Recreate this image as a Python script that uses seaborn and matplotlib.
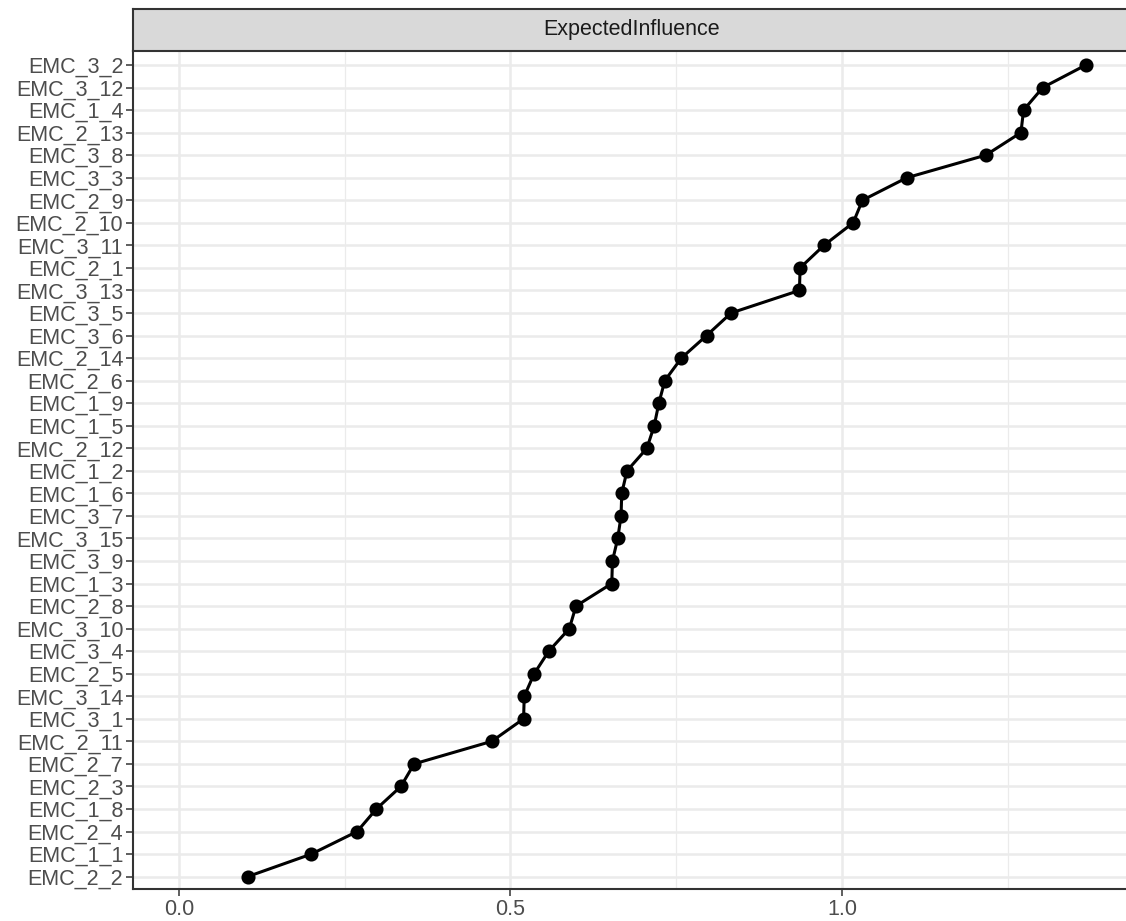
import matplotlib
matplotlib.use("Agg")
import matplotlib.pyplot as plt
import pandas as pd
import seaborn as sns
from matplotlib.ticker import FixedLocator

# nodes, top to bottom, and their expected influence
nodes = [
    "EMC_3_2", "EMC_3_12", "EMC_1_4", "EMC_2_13", "EMC_3_8", "EMC_3_3",
    "EMC_2_9", "EMC_2_10", "EMC_3_11", "EMC_2_1", "EMC_3_13", "EMC_3_5",
    "EMC_3_6", "EMC_2_14", "EMC_2_6", "EMC_1_9", "EMC_1_5", "EMC_2_12",
    "EMC_1_2", "EMC_1_6", "EMC_3_7", "EMC_3_15", "EMC_3_9", "EMC_1_3",
    "EMC_2_8", "EMC_3_10", "EMC_3_4", "EMC_2_5", "EMC_3_14", "EMC_3_1",
    "EMC_2_11", "EMC_2_7", "EMC_2_3", "EMC_1_8", "EMC_2_4", "EMC_1_1",
    "EMC_2_2",
]
influence = [
    1.368, 1.303, 1.274, 1.270, 1.217, 1.098,
    1.031, 1.017, 0.973, 0.937, 0.936, 0.833,
    0.796, 0.758, 0.733, 0.724, 0.717, 0.706,
    0.676, 0.668, 0.667, 0.662, 0.654, 0.653,
    0.599, 0.589, 0.558, 0.536, 0.521, 0.520,
    0.472, 0.355, 0.335, 0.298, 0.269, 0.200,
    0.104,
]
xticks = [0.0, 0.5, 1.0]
xtick_labels = ["0.0", "0.5", "1.0"]
minor_ticks = [0.25, 0.75, 1.25]
panel_title = "ExpectedInfluence"

df = pd.DataFrame({"node": nodes, "value": influence})

sns.set_theme(style="white")
plt.rcParams["font.family"] = ["Liberation Sans", "DejaVu Sans"]

W, H = 1126, 921
fig = plt.figure(figsize=(W / 100, H / 100), dpi=100)
ax = fig.add_axes([133 / W, 1 - 889 / H, (1131 - 133) / W, (889 - 51) / H])
strip = fig.add_axes([133 / W, 1 - 51 / H, (1131 - 133) / W, (51 - 9) / H])

sns.pointplot(
    data=df, x="value", y="node", order=nodes, orient="h",
    color="black", markers="o", markersize=8.5, linewidth=2.2,
    errorbar=None, ax=ax,
)

ax.set_xlim(-0.069, 1.436)
ax.set_ylim(len(nodes) - 1 + 0.55, -0.62)
ax.xaxis.set_major_locator(FixedLocator(xticks))
ax.xaxis.set_minor_locator(FixedLocator(minor_ticks))
ax.set_xticklabels(xtick_labels)
ax.set_xlabel("")
ax.set_ylabel("")

ax.set_axisbelow(True)
ax.grid(True, which="major", axis="both", color="#EBEBEB", linewidth=1.8)
ax.grid(True, which="minor", axis="x", color="#EBEBEB", linewidth=0.9)

for side in ["left", "bottom"]:
    ax.spines[side].set_color("#333333")
    ax.spines[side].set_linewidth(1.5)
ax.spines["top"].set_visible(False)
ax.spines["right"].set_visible(False)

ax.tick_params(axis="both", which="major", length=5, width=1.1, color="#333333",
               labelsize=15.5, labelcolor="#4D4D4D", pad=2, left=True, bottom=True)
ax.tick_params(axis="x", which="minor", length=0)

strip.set_facecolor("#D9D9D9")
strip.set_xticks([])
strip.set_yticks([])
for s in strip.spines.values():
    s.set_color("#333333")
    s.set_linewidth(1.5)
strip.spines["right"].set_visible(False)
strip.text(0.5, 0.5, panel_title, transform=strip.transAxes, ha="center",
           va="center", fontsize=15.5, color="#1A1A1A")

fig.savefig("out.png", dpi=100)
